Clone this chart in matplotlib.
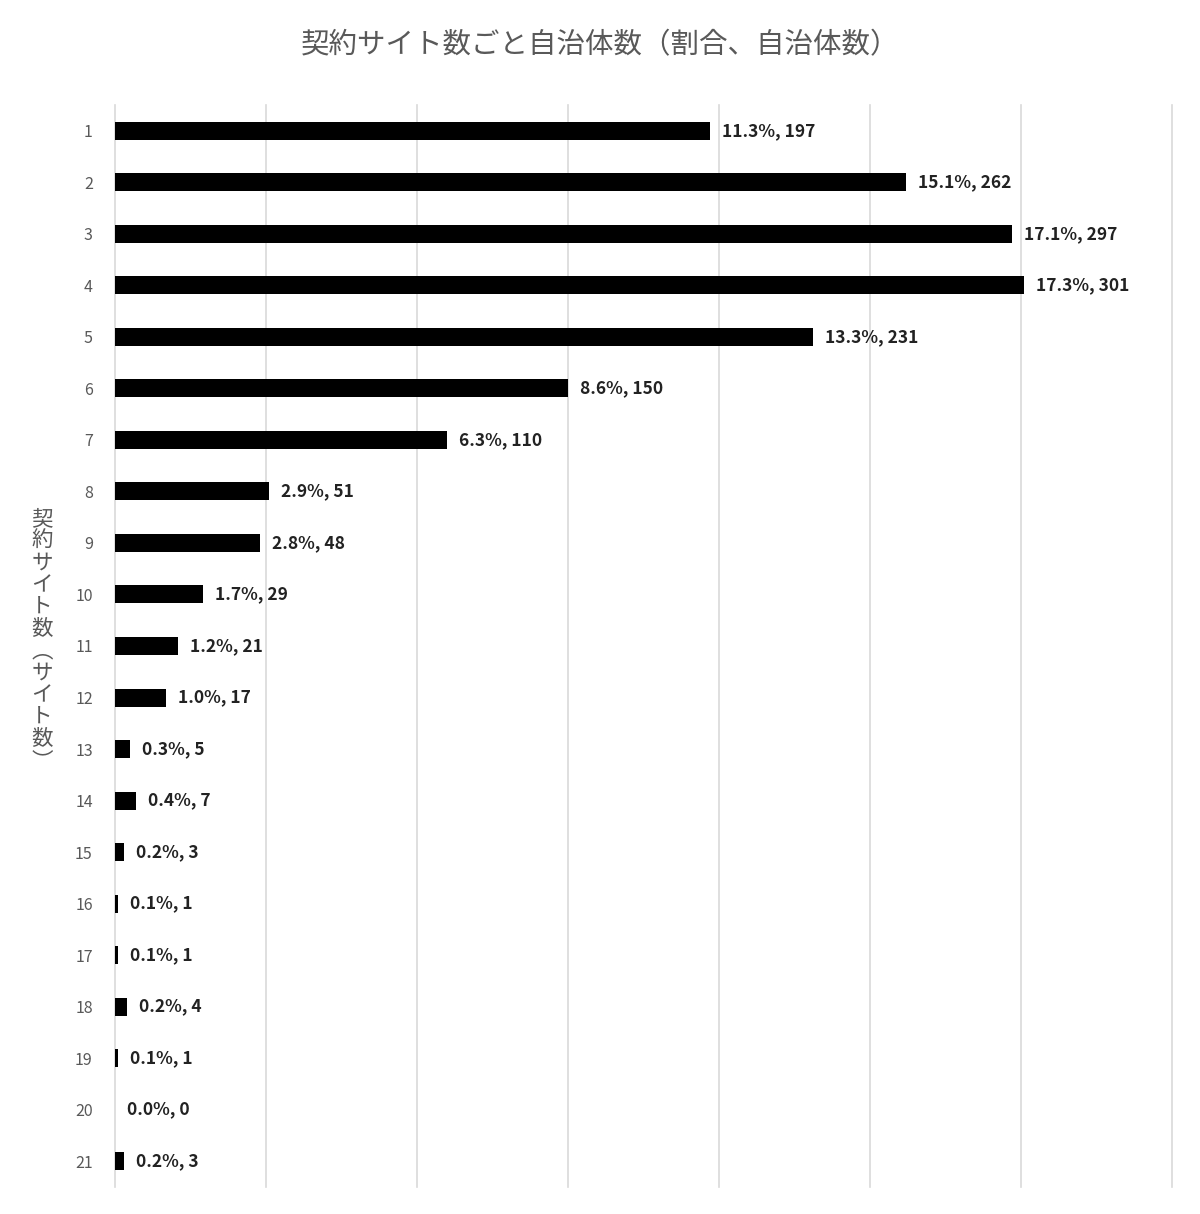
import matplotlib.pyplot as plt

plt.rcParams['font.family'] = ['Noto Sans CJK JP', 'DejaVu Sans']

# 契約サイト数 (1..21) and 自治体数
site_counts = [str(i) for i in range(1, 22)]
municipalities = [197, 262, 297, 301, 231, 150, 110, 51, 48, 29, 21, 17, 5, 7, 3, 1, 1, 4, 1, 0, 3]
shares = ['11.3%', '15.1%', '17.1%', '17.3%', '13.3%', '8.6%', '6.3%', '2.9%', '2.8%', '1.7%',
          '1.2%', '1.0%', '0.3%', '0.4%', '0.2%', '0.1%', '0.1%', '0.2%', '0.1%', '0.0%', '0.2%']

title = '契約サイト数ごと自治体数（割合、自治体数）'
ylabel = '契約サイト数︵サイト数︶'

fig = plt.figure(figsize=(12, 12.14), dpi=100)
ax = fig.add_axes([115 / 1200, 1 - 1187 / 1214, (1172 - 115) / 1200, (1187 - 105) / 1214])

ypos = list(range(len(site_counts)))
ax.barh(ypos, municipalities, height=0.35, color='black')

for y, v, s in zip(ypos, municipalities, shares):
    ax.text(v + 4, y, f'{s}, {v}', va='center', ha='left', fontsize=12.5,
            fontweight='bold', color='#222222')

ax.set_xlim(0, 350)
ax.set_ylim(len(site_counts) - 0.5, -0.5)
ax.set_xticks(range(0, 351, 50))
ax.set_xticklabels([])
ax.set_yticks(ypos)
ax.set_yticklabels(site_counts, fontsize=11.5, color='#595959')
ax.tick_params(length=0, axis='both', pad=16)
ax.grid(axis='x', color='#d9d9d9', linewidth=1.2)
for gl in ax.get_xgridlines():
    gl.set_clip_on(False)
ax.set_axisbelow(True)
for sp in ax.spines.values():
    sp.set_visible(False)

fig.text(0.5, 1 - 45 / 1214, title, ha='center', va='center', fontsize=20.5, color='#595959')
fig.text(42 / 1200, 1 - 640 / 1214, '\n'.join(ylabel), ha='center', va='center',
         fontsize=15.5, color='#595959', linespacing=1.0)

fig.savefig('out.png', dpi=100, facecolor='white')
